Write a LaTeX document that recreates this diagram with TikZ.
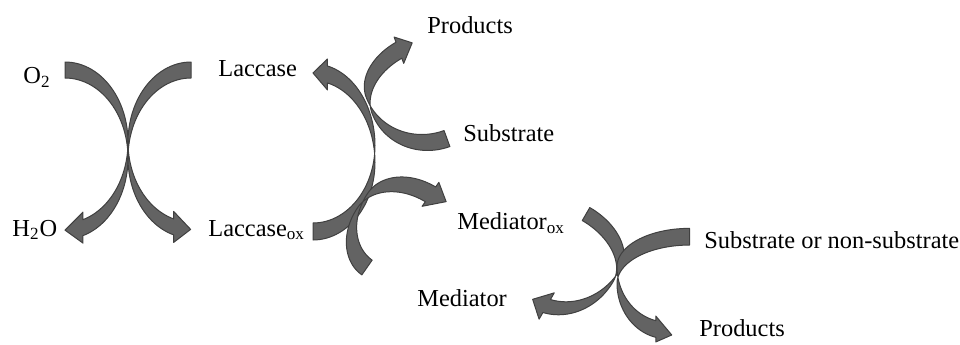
\documentclass[tikz,border=0pt]{standalone}
\usepackage{fontspec}
\setmainfont{Liberation Serif}
\usetikzlibrary{positioning}

% curved arrow in its own frame: tail on top, thin point at the origin,
% head at the lower left
% #1,#2 upper arc radii, #3,#4 lower arc radii, #5 end angle,
% #6 band thickness, #7 head half width, #8 head length, #9 head drop
\newcommand{\curvedarrow}[9]{%
  \filldraw[arrowbody]
    plot[domain=90:0] ({-#1+#1*cos(\x)}, {#2*sin(\x)+#6/2})
    -- plot[domain=0:#5] ({-#3+#3*cos(\x)}, {#4*sin(\x)+#6/2})
    -- ({-#3+#3*cos(#5)}, {#4*sin(#5)+#7})
    -- ({-#3+#3*cos(#5)-#8}, {#4*sin(#5)-#9})
    -- ({-#3+#3*cos(#5)}, {#4*sin(#5)-#7})
    -- plot[domain=#5:0] ({-#3+#3*cos(\x)}, {#4*sin(\x)-#6/2})
    -- plot[domain=0:90] ({-#1+#1*cos(\x)}, {#2*sin(\x)-#6/2})
    -- cycle;}

\tikzset{
  arrowbody/.style={fill=black!61, draw=black!75, line width=0.5pt, line join=round, samples=30},
  lbl/.style={anchor=base west, inner sep=0pt, font=\fontsize{12.2}{14}\selectfont},
}

\begin{document}
\begin{tikzpicture}[x=0.5pt, y=0.5pt]
    \useasboundingbox (0,0) rectangle (960,344); % same size as the reference

    % points where the arrows of each cycle are thinnest
    \coordinate (oxcross) at (128,194);
    \coordinate (laccross) at (375,190);
    \coordinate (subcross) at (369,239);
    \coordinate (medcross) at (363,144);
    \coordinate (redcross) at (617,69);

    % labels
    \node[lbl] (o2) at (23,260.5) {O\textsubscript{2}};
    \node[lbl] (h2o) at (12,108) {H\textsubscript{2}O};
    \node[lbl] (laccase) at (218,268) {Laccase};
    \node[lbl] (laccaseox) at (208,108) {Laccase\textsubscript{ox}};
    \node[lbl] (products) at (427,311) {Products};
    \node[lbl] (substrate) at (463,203) {Substrate};
    \node[lbl] (mediatorox) at (457,114.5) {Mediator\textsubscript{ox}};
    \node[lbl] (mediator) at (417,38) {Mediator};
    \node[lbl] (nonsubstrate) at (704,96) {Substrate or non-substrate};
    \node[lbl] (products2) at (699,8) {Products};

    % first cycle: oxygen and laccase
    \begin{scope}[shift={(oxcross)}]
        \curvedarrow{63}{80}{63}{81}{-73.4}{16}{15.5}{18}{2.5}
    \end{scope}
    \begin{scope}[shift={(oxcross)}, xscale=-1]
        \curvedarrow{63}{80}{63}{80}{-74}{16}{15.5}{17}{2.5}
    \end{scope}

    % second cycle: laccase, substrate and mediator
    \begin{scope}[shift={(laccross)}, yscale=-1]
        \curvedarrow{62}{77.5}{62}{81.8}{-76.5}{17}{15.5}{14.5}{1.5}
    \end{scope}
    \begin{scope}[shift={(subcross)}, rotate=200]
        \curvedarrow{61.8}{58.2}{61.8}{42.5}{-76}{17}{14}{15}{2.4}
    \end{scope}
    \begin{scope}[shift={(medcross)}, rotate=145]
        \curvedarrow{42}{53}{57}{43.5}{-85}{18}{14.6}{17}{3}
    \end{scope}

    % third cycle: mediator and substrate
    \begin{scope}[shift={(redcross)}, rotate=-30]
        \curvedarrow{57.3}{37.3}{57.3}{63.4}{-78}{15}{15.2}{15.5}{1.2}
    \end{scope}
    \begin{scope}[shift={(redcross)}, xscale=-1]
        \curvedarrow{72.5}{38.3}{50}{55.4}{-77}{16.7}{13}{16}{6}
    \end{scope}
\end{tikzpicture}
\end{document}
